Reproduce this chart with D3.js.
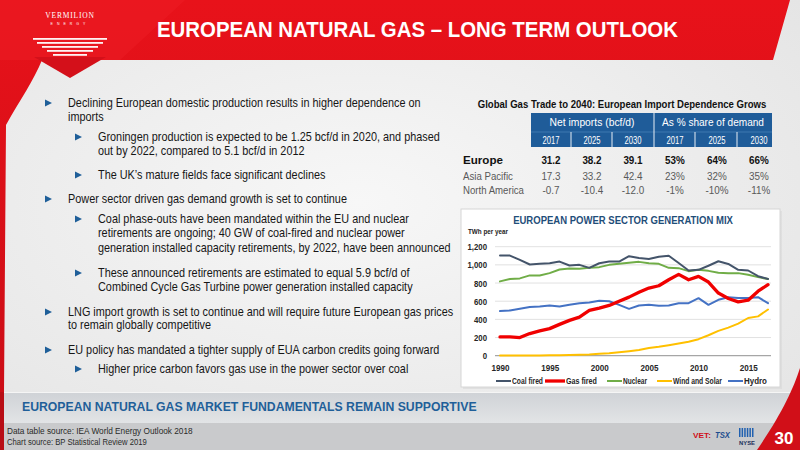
<!DOCTYPE html>
<html><head><meta charset="utf-8">
<script src="https://cdn.jsdelivr.net/npm/d3@7"></script>
<style>
html,body{margin:0;padding:0;background:#fff;}
svg{display:block;}
text{font-family:"Liberation Sans Narrow","Liberation Sans",Arial,sans-serif;}
</style></head>
<body>
<svg id="slide" width="800" height="450"></svg>
<script>
// ---------------- DATA ----------------
const years = [1990,1991,1992,1993,1994,1995,1996,1997,1998,1999,2000,2001,2002,2003,2004,2005,2006,2007,2008,2009,2010,2011,2012,2013,2014,2015,2016,2017];
const coalFired = [1102,1102,1055,1004,1011,1018,1036,993,1000,967,1018,1036,1036,1095,1076,1065,1090,1100,1020,938,945,990,1040,1010,945,938,875,845];
const gasFired = [207,207,200,244,273,298,345,389,425,498,524,553,600,645,698,745,770,836,895,836,873,811,690,630,593,611,710,782];
const nuclear = [818,844,851,884,884,909,949,960,956,967,975,1000,1011,1022,1033,1018,1011,967,964,931,945,934,913,909,909,891,865,844];
const windSolar = [1,1,2,2,3,4,5,7,10,14,22,28,38,50,62,84,98,116,135,153,182,225,273,309,353,415,433,509];
const hydro = [491,498,516,535,542,553,542,560,578,585,604,600,560,516,553,560,549,553,578,578,633,560,615,644,636,636,644,578];
const seriesNames = ["Coal fired","Gas fired","Nuclear","Wind and Solar","Hydro"];
const yTicks = [0,200,400,600,800,1000,1200];
const xTicks = [1990,1995,2000,2005,2010,2015];

const tableRegions = ["Europe","Asia Pacific","North America"];
const tableGroups = ["Net imports (bcf/d)","As % share of demand"];
const tableYears = ["2017","2025","2030","2017","2025","2030"];
const netImports = [[31.2,38.2,39.1],[17.3,33.2,42.4],[-0.7,-10.4,-12.0]];
const shareOfDemand = [[53,64,66],[23,32,35],[-1,-10,-11]];

const titleText = "EUROPEAN NATURAL GAS – LONG TERM OUTLOOK";
const tableTitle = "Global Gas Trade to 2040: European Import Dependence Grows";
const chartTitle = "EUROPEAN POWER SECTOR GENERATION MIX";
const subtitleText = "EUROPEAN NATURAL GAS MARKET FUNDAMENTALS REMAIN SUPPORTIVE";
const sourceLines = ["Data table source: IEA World Energy Outlook 2018","Chart source: BP Statistical Review 2019"];
const bulletLines = [
  [1,true,"Declining European domestic production results in higher dependence on"],
  [1,false,"imports"],
  [2,true,"Groningen production is expected to be 1.25 bcf/d in 2020, and phased"],
  [2,false,"out by 2022, compared to 5.1 bcf/d in 2012"],
  [2,true,"The UK’s mature fields face significant declines"],
  [1,true,"Power sector driven gas demand growth is set to continue"],
  [2,true,"Coal phase-outs have been mandated within the EU and nuclear"],
  [2,false,"retirements are ongoing; 40 GW of coal-fired and nuclear power"],
  [2,false,"generation installed capacity retirements, by 2022, have been announced"],
  [2,true,"These announced retirements are estimated to equal 5.9 bcf/d of"],
  [2,false,"Combined Cycle Gas Turbine power generation installed capacity"],
  [1,true,"LNG import growth is set to continue and will require future European gas prices"],
  [1,false,"to remain globally competitive"],
  [1,true,"EU policy has mandated a tighter supply of EUA carbon credits going forward"],
  [2,true,"Higher price carbon favors gas use in the power sector over coal"]
];

// ---------------- LAYOUT ----------------
const bulletY = [103,117,137,151,175,199,219,233,248,273,287,312,325,350,369];
const svg = d3.select("#slide");
const defs = svg.append("defs");

// horizontal squeeze via transform (keeps real bounding boxes)
function squeeze(sel, k){
  sel.each(function(){
    const s = d3.select(this);
    const x = +s.attr("x")||0, y = +s.attr("y")||0;
    s.attr("x",0).attr("y",0).attr("transform",`translate(${x},${y}) scale(${k},1)`);
  });
}
function fitTo(sel, w){ const l = sel.node().getComputedTextLength(); squeeze(sel, l>0 ? w/l : 1); }
function kFor(sel, w){ const l = sel.node().getComputedTextLength(); return l>0 ? w/l : 1; }

// background
const bg = defs.append("radialGradient").attr("id","bgG").attr("cx","45%").attr("cy","45%").attr("r","75%");
bg.append("stop").attr("offset","0%").attr("stop-color","#f7f7f7");
bg.append("stop").attr("offset","100%").attr("stop-color","#e4e4e4");
svg.append("rect").attr("width",800).attr("height",450).attr("fill","url(#bgG)");

// footer bands
const fg = defs.append("linearGradient").attr("id","footG").attr("x1",0).attr("y1",0).attr("x2",0).attr("y2",1);
fg.append("stop").attr("offset","0%").attr("stop-color","#cfd2d6");
fg.append("stop").attr("offset","100%").attr("stop-color","#e2e4e6");
svg.append("rect").attr("x",0).attr("y",392).attr("width",800).attr("height",31).attr("fill","url(#footG)");
svg.append("rect").attr("x",0).attr("y",423).attr("width",800).attr("height",27).attr("fill","#c9cacc");
svg.append("line").attr("x1",0).attr("x2",800).attr("y1",392.5).attr("y2",392.5).attr("stroke","#f5f5f5").attr("stroke-width",1);

// red header
const hg = defs.append("linearGradient").attr("id","headG").attr("x1",0).attr("y1",0).attr("x2",0).attr("y2",1);
hg.append("stop").attr("offset","0%").attr("stop-color","#e8121a");
hg.append("stop").attr("offset","100%").attr("stop-color","#cc0d16");
svg.append("path").attr("d","M0,0 L790,0 L773,60 L42,60 C34,80 20,100 6,125 L4,392 L0,392 Z").attr("fill","url(#headG)");
svg.append("path").attr("d","M0,0 L185,0 L120,60 L0,60 Z").attr("fill","#f0222a").attr("opacity",0.35);
svg.append("path").attr("d","M800,368 C793,390 781,415 757,450 L800,450 Z").attr("fill","#d10f18");
svg.append("rect").attr("x",0).attr("y",392).attr("width",4).attr("height",58).attr("fill","#b80d15");

// logo
svg.append("path").attr("d","M34,57 L106,57 L70,78 Z").attr("fill","#d4101a");
const stripeY=[38,42,46,50,54];
const stripeW=[74,66,56,46,34];
stripeY.forEach((y,i)=>{
  svg.append("rect").attr("x",70-stripeW[i]/2).attr("y",y).attr("width",stripeW[i]).attr("height",1.8).attr("fill","#fff").attr("opacity",0.95);
});
svg.append("text").attr("x",70).attr("y",18).attr("text-anchor","middle").attr("fill","#fff")
  .attr("font-size",7.5).style("font-family","'Liberation Serif',serif").attr("letter-spacing",0.8).text("VERMILION");
svg.append("text").attr("x",70).attr("y",25).attr("text-anchor","middle").attr("fill","#fff")
  .attr("font-size",3.5).style("font-family","'Liberation Sans',sans-serif").attr("letter-spacing",4).text("ENERGY");

// title
const tt = svg.append("text").attr("x",157).attr("y",37).attr("fill","#fff").attr("font-size",22).attr("font-weight","bold").text(titleText);
fitTo(tt,521);

// ---------------- BULLETS ----------------
const bodyG = svg.append("g");
const bodyTexts = bodyG.selectAll("text.body").data(bulletLines).join("text").attr("class","body")
  .attr("x",d=>d[0]===1?68:98).attr("y",(d,i)=>bulletY[i]+4.3)
  .attr("font-size",12.5).attr("fill","#161616").text(d=>d[2]);
const kBody = kFor(bodyTexts.filter((d,i)=>i===0), 353);
squeeze(bodyTexts, kBody);
bodyG.selectAll("path.tri").data(bulletLines.map((d,i)=>[d,bulletY[i]]).filter(p=>p[0][1])).join("path").attr("class","tri")
  .attr("d",p=>{const x=p[0][0]===1?45:75, y=p[1]; return `M${x},${y-3.5} L${x+7},${y} L${x},${y+3.5} Z`;})
  .attr("fill","#1f5f99");

// ---------------- TABLE ----------------
const tG = svg.append("g");
const tTitle = tG.append("text").attr("x",622).attr("y",108).attr("text-anchor","middle").attr("font-size",11).attr("font-weight","bold").attr("fill","#111").text(tableTitle);
fitTo(tTitle,289);
tG.append("rect").attr("x",531).attr("y",113).attr("width",241).attr("height",34).attr("fill","#1f5c99");
tG.append("line").attr("x1",531).attr("x2",772).attr("y1",132).attr("y2",132).attr("stroke","#3f78b0").attr("stroke-width",1);
const colSep = [571,612,654,695,737];
colSep.forEach(x=>{
  tG.append("line").attr("x1",x).attr("x2",x).attr("y1",x===654?113:132).attr("y2",147).attr("stroke","#e8eef5").attr("stroke-width",1);
});
const colCenters = [551,592,633,675,717,759];
const groupCenters = [592,713];
const groupWidths = [85,102];
tableGroups.forEach((g,i)=>{
  const t = tG.append("text").attr("x",groupCenters[i]).attr("y",126).attr("text-anchor","middle").attr("font-size",11.5).attr("fill","#fff").text(g);
  fitTo(t, groupWidths[i]);
});
const yrT = tG.selectAll("text.yr").data(tableYears).join("text").attr("class","yr")
  .attr("x",(d,i)=>colCenters[i]).attr("y",143.5).attr("text-anchor","middle").attr("font-size",11).attr("fill","#fff").text(d=>d);
squeeze(yrT, 17/ yrT.node().getComputedTextLength());
const rowY = [164,180,194];
const fmtPct = d=>d+"%";
const fmtNum = d=>d3.format(".1f")(d).replace("−","-");
tableRegions.forEach((r,ri)=>{
  const bold = ri===0;
  const col = bold?"#111":"#595959";
  const lab = tG.append("text").attr("x",463).attr("y",rowY[ri]).attr("font-size",11.5).attr("font-weight",bold?"bold":"normal").attr("fill",col).text(r);
  fitTo(lab, [40,50,61][ri]);
  const vals = netImports[ri].map(fmtNum).concat(shareOfDemand[ri].map(fmtPct));
  vals.forEach((v,ci)=>{
    const t = tG.append("text").attr("x",colCenters[ci]).attr("y",rowY[ri]).attr("text-anchor","middle")
      .attr("font-size",11.5).attr("font-weight",bold?"bold":"normal").attr("fill",col).text(v);
    squeeze(t, 0.86);
  });
});

// ---------------- LINE CHART ----------------
const cG = svg.append("g");
cG.append("rect").attr("x",463).attr("y",211).attr("width",319).attr("height",178).attr("fill","#d8d8d8").attr("opacity",0.6);
cG.append("rect").attr("x",461).attr("y",209).attr("width",319).attr("height",178).attr("fill","#fff").attr("stroke","#d6d6d6");
const ct = cG.append("text").attr("x",623).attr("y",224).attr("text-anchor","middle").attr("font-size",11).attr("font-weight","bold").attr("fill","#1f4e79").text(chartTitle);
fitTo(ct,220);
const tw = cG.append("text").attr("x",468).attr("y",233.5).attr("font-size",7).attr("font-weight","bold").attr("fill","#222").text("TWh per year");
fitTo(tw,40);

const x = d3.scaleLinear().domain([1990,2017]).range([500,768]);
const y = d3.scaleLinear().domain([0,1200]).range([355.7,246.7]);

cG.append("g").selectAll("line").data(yTicks).join("line")
  .attr("x1",495).attr("x2",771).attr("y1",d=>y(d)).attr("y2",d=>y(d))
  .attr("stroke",d=>d===0?"#a6a6a6":"#d9d9d9").attr("stroke-width",d=>d===0?1.2:0.8);

const yAxis = d3.axisLeft(y).tickValues(yTicks).tickSize(0).tickPadding(0).tickFormat(d3.format(","));
const yA = cG.append("g").attr("transform","translate(487,0)").call(yAxis);
yA.select(".domain").remove();
yA.selectAll("text").attr("font-size",8.5).attr("font-weight","bold").attr("fill","#262626")
  .style("font-family","'Liberation Sans Narrow','Liberation Sans',Arial,sans-serif").attr("dy","0.35em");
yA.selectAll("text").attr("transform","scale(0.92,1)");

const xAxis = d3.axisBottom(x).tickValues(xTicks).tickSize(0).tickPadding(0).tickFormat(d3.format("d"));
const xA = cG.append("g").attr("transform","translate(0,364.5)").call(xAxis);
xA.select(".domain").remove();
xA.selectAll("text").attr("font-size",9).attr("font-weight","bold").attr("fill","#262626")
  .style("font-family","'Liberation Sans Narrow','Liberation Sans',Arial,sans-serif").attr("dy","0.71em")
  .attr("transform","scale(0.9,1)");

const seriesValues = [coalFired,gasFired,nuclear,windSolar,hydro];
const seriesColors = ["#44546a","#f00000","#70ad47","#ffc000","#4472c4"];
const seriesWidths = [2,3.3,2,2,2];
const line = d3.line().x((d,i)=>x(years[i])).y(d=>y(d));
const drawOrder = [3,4,2,0,1];
drawOrder.forEach(si=>{
  cG.append("path").datum(seriesValues[si]).attr("d",line).attr("fill","none")
    .attr("stroke",seriesColors[si]).attr("stroke-width",seriesWidths[si]).attr("stroke-linejoin","round").attr("stroke-linecap","round");
});

// legend
const legX = [496,545,607,657,728];
const legL = [15,20,15,15,15];
const legW = [31,31,24,49,23];
seriesNames.forEach((n,i)=>{
  cG.append("line").attr("x1",legX[i]).attr("x2",legX[i]+legL[i]).attr("y1",381).attr("y2",381)
    .attr("stroke",seriesColors[i]).attr("stroke-width",seriesWidths[i]);
  const t = cG.append("text").attr("x",legX[i]+legL[i]+1).attr("y",384).attr("font-size",8.5).attr("font-weight","bold").attr("fill","#262626").text(n);
  fitTo(t, legW[i]);
});

// ---------------- FOOTER ----------------
const st = svg.append("text").attr("x",22).attr("y",410.5).attr("font-size",12.5).attr("font-weight","bold").attr("fill","#1f5f99").text(subtitleText);
fitTo(st,455);
const srcW = [186,140];
sourceLines.forEach((s,i)=>{
  const t = svg.append("text").attr("x",7).attr("y",[434,445][i]).attr("font-size",9).attr("fill","#2a2a2a").text(s);
  fitTo(t, srcW[i]);
});
const vt = svg.append("text").attr("x",693).attr("y",438).attr("font-size",8).attr("font-weight","bold").attr("fill","#d0101a").text("VET:");
fitTo(vt,18);
const tsx = svg.append("text").attr("x",715).attr("y",438).attr("font-size",9).attr("font-weight","bold").attr("font-style","italic").attr("fill","#1f4e8f").text("TSX");
fitTo(tsx,15);
[0,1,2,3,4,5].forEach(i=>{
  svg.append("rect").attr("x",739+i*2.6).attr("y",428).attr("width",1.5).attr("height",9).attr("fill","#2060b0");
});
const ny = svg.append("text").attr("x",739).attr("y",445).attr("font-size",6).attr("font-weight","bold").attr("fill","#1a2f5a").text("NYSE");
fitTo(ny,16);
svg.append("text").attr("x",784).attr("y",444).attr("text-anchor","middle").attr("font-size",17).attr("font-weight","bold").attr("fill","#fff").text("30");
</script>
</body></html>
